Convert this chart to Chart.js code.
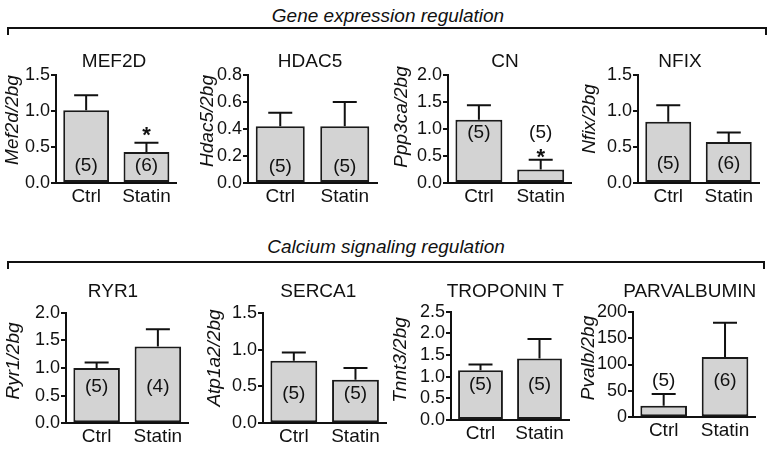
<!DOCTYPE html>
<html><head><meta charset="utf-8">
<script src="https://cdn.jsdelivr.net/npm/chart.js@4.4.1/dist/chart.umd.min.js"></script>
<style>
html,body{margin:0;padding:0;background:#fff;}
body{width:773px;height:449px;overflow:hidden;position:relative;font-family:"Liberation Sans",Arial,sans-serif;}
.hdr{position:absolute;font-style:italic;font-size:19px;color:#111;white-space:nowrap;transform:translateX(-50%);line-height:1;}
.br{position:absolute;box-sizing:border-box;border:2px solid #111;border-bottom:none;}
canvas{position:absolute;}
</style></head><body>
<div class="hdr" style="left:388px;top:6px">Gene expression regulation</div>
<div class="br" style="left:7px;top:27px;width:760px;height:8px"></div>
<div class="hdr" style="left:386px;top:237px">Calcium signaling regulation</div>
<div class="br" style="left:7px;top:261px;width:758px;height:8px"></div>
<script>
// ---- data ----
const categories = ['Ctrl', 'Statin'];
const titles = ['MEF2D', 'HDAC5', 'CN', 'NFIX', 'RYR1', 'SERCA1', 'TROPONIN T', 'PARVALBUMIN'];
const yTitles = ['Mef2d/2bg', 'Hdac5/2bg', 'Ppp3ca/2bg', 'Nfix/2bg', 'Ryr1/2bg', 'Atp1a2/2bg', 'Tnnt3/2bg', 'Pvalb/2bg'];
const means = [[1.01, 0.43], [0.42, 0.42], [1.17, 0.25], [0.85, 0.57], [1.00, 1.39], [0.85, 0.59], [1.15, 1.42], [22, 114]];
const sems  = [[0.21, 0.13], [0.10, 0.18], [0.27, 0.18], [0.23, 0.13], [0.10, 0.31], [0.11, 0.16], [0.13, 0.45], [22, 65]];
const nCounts = [[5, 6], [5, 5], [5, 5], [5, 6], [5, 4], [5, 5], [5, 5], [5, 6]];
const stars = [[false, true], [false, false], [false, true], [false, false], [false, false], [false, false], [false, false], [false, false]];
const yMax = [1.5, 0.8, 2.0, 1.5, 2.0, 1.5, 2.5, 200];
const yStep = [0.5, 0.2, 0.5, 0.5, 0.5, 0.5, 0.5, 50];
const yDecimals = [1, 1, 1, 1, 1, 1, 1, 0];

// ---- layout (pixel geometry / label anchors) ----
const panels = [
  {axisX:56,    right:176.6, top:75,    bottom:183,   rowTop:30,  rowBottom:212, titleX:114, titleY:67,  yTitleX:13,  yTitleY:120, countAt:0.25, starAt:0.72},
  {axisX:248,   right:377,   top:75,    bottom:183,   rowTop:30,  rowBottom:212, titleX:310, titleY:67,  yTitleX:208, yTitleY:121, countAt:0.13},
  {axisX:448,   right:571.6, top:75,    bottom:183,   rowTop:30,  rowBottom:212, titleX:505, titleY:67,  yTitleX:402, yTitleY:117, countAt:0.95, starAt:0.55},
  {axisX:638,   right:759,   top:75,    bottom:183,   rowTop:30,  rowBottom:212, titleX:680, titleY:67,  yTitleX:590, yTitleY:119, countAt:0.28},
  {axisX:66,    right:188.5, top:312.7, bottom:423.3, rowTop:266, rowBottom:449, titleX:113, titleY:297, yTitleX:14,  yTitleY:361, countAt:0.67},
  {axisX:262.7, right:386,   top:312.7, bottom:423.3, rowTop:266, rowBottom:449, titleX:318, titleY:297, yTitleX:214, yTitleY:358, countAt:0.41},
  {axisX:450.7, right:568.7, top:311.7, bottom:420,   rowTop:266, rowBottom:449, titleX:505, titleY:297, yTitleX:400, yTitleY:360, countAt:0.84},
  {axisX:633.3, right:756,   top:311.7, bottom:417.3, rowTop:266, rowBottom:449, titleX:690, titleY:297, yTitleX:589, yTitleY:358, countAt:71}
];

const FAM = '"Liberation Sans", Arial, sans-serif';
const INK = '#111';
const Y_W = 72;

const annot = {
  id: 'annot',
  afterDatasetsDraw(chart, args, o) {
    const p = o.panel, L = panels[p];
    const ctx = chart.ctx, y = chart.scales.y;
    const ox = o.left, oy = o.top;
    const meta = chart.getDatasetMeta(0);
    ctx.save();
    // error bars (upper SEM)
    ctx.strokeStyle = INK; ctx.lineWidth = 2;
    meta.data.forEach((bar, i) => {
      const v = means[p][i], e = sems[p][i];
      const y0 = y.getPixelForValue(v), y1 = y.getPixelForValue(v + e);
      ctx.beginPath();
      ctx.moveTo(bar.x, y0); ctx.lineTo(bar.x, y1);
      ctx.moveTo(bar.x - 12, y1); ctx.lineTo(bar.x + 12, y1);
      ctx.stroke();
    });
    // counts and stars
    ctx.fillStyle = INK;
    ctx.textAlign = 'center';
    meta.data.forEach((bar, i) => {
      ctx.font = '19px ' + FAM;
      ctx.textBaseline = 'middle';
      ctx.fillText('(' + nCounts[p][i] + ')', bar.x, y.getPixelForValue(L.countAt) + 1);
      if (stars[p][i]) {
        ctx.font = 'bold 22px ' + FAM;
        ctx.textBaseline = 'alphabetic';
        ctx.fillText('*', bar.x, y.getPixelForValue(L.starAt) + 11);
      }
    });
    // panel title
    ctx.font = '19px ' + FAM;
    ctx.textBaseline = 'alphabetic';
    ctx.fillText(titles[p], L.titleX - ox, L.titleY - oy);
    // y axis title
    ctx.translate(L.yTitleX - ox, L.yTitleY - oy);
    ctx.rotate(-Math.PI / 2);
    ctx.font = 'italic 19px ' + FAM;
    ctx.textBaseline = 'middle';
    ctx.fillText(yTitles[p], 0, 0);
    ctx.restore();
  }
};

panels.forEach((L, p) => {
  const left = Math.max(0, L.axisX - Y_W);
  const yw = L.axisX - left;
  const width = Math.round(Math.min(773, L.right + 12) - left);
  const height = L.rowBottom - L.rowTop;
  const cv = document.createElement('canvas');
  cv.width = width; cv.height = height;
  cv.style.left = left + 'px'; cv.style.top = L.rowTop + 'px';
  cv.style.width = width + 'px'; cv.style.height = height + 'px';
  document.body.appendChild(cv);
  new Chart(cv, {
    type: 'bar',
    data: {
      labels: categories,
      datasets: [{
        data: means[p],
        backgroundColor: '#d3d3d3',
        borderColor: '#1a1a1a',
        borderWidth: 2,
        borderSkipped: false,
        barPercentage: 0.76,
        categoryPercentage: 1
      }]
    },
    options: {
      responsive: false,
      animation: false,
      devicePixelRatio: 1,
      layout: { autoPadding: false, padding: { top: L.top - L.rowTop, right: left + width - L.right, left: 0, bottom: 0 } },
      plugins: {
        legend: { display: false },
        tooltip: { enabled: false },
        annot: { panel: p, left: left, top: L.rowTop }
      },
      scales: {
        x: {
          grid: { display: false, drawTicks: false },
          border: { display: true, color: INK, width: 2 },
          ticks: { color: INK, font: { size: 19, family: FAM }, padding: 2, maxRotation: 0, autoSkip: false },
          afterFit(s) { s.height = L.rowBottom - L.bottom; }
        },
        y: {
          min: 0, max: yMax[p],
          ticks: {
            stepSize: yStep[p], color: INK, padding: 1, autoSkip: false,
            font: { size: 18, family: FAM },
            callback: v => Number(v).toFixed(yDecimals[p])
          },
          grid: { drawOnChartArea: false, drawTicks: true, tickLength: 5, color: INK, lineWidth: 2 },
          border: { display: true, color: INK, width: 2 },
          afterFit(s) { s.width = yw; }
        }
      }
    },
    plugins: [annot]
  });
});
</script>
</body></html>
